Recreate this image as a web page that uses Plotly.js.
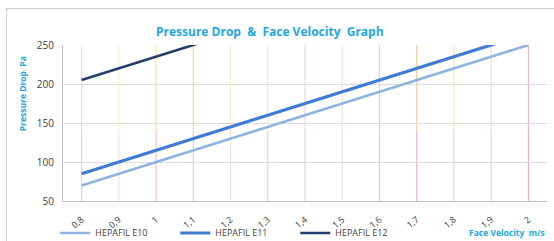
<!DOCTYPE html>
<html>
<head>
<meta charset="utf-8">
<script src="https://cdn.plot.ly/plotly-3.0.1.min.js"></script>
<style>
  html, body { margin: 0; padding: 0; background: #ffffff; }
  #wrap { position: relative; width: 554px; height: 241px; overflow: hidden; }
  #chart { position: absolute; left: 0; top: 0; width: 554px; height: 241px; }
  #frame { position: absolute; left: 6px; top: 8px; width: 560px; height: 260px;
           border: 1px solid #cfcfcf; pointer-events: none; box-sizing: border-box; }
</style>
</head>
<body>
<div id="wrap">
  <div id="chart"></div>
  <div id="frame"></div>
</div>
<script>
// ---- data ----
const velocity = [0.8, 0.9, 1.0, 1.1, 1.2, 1.3, 1.4, 1.5, 1.6, 1.7, 1.8, 1.9, 2.0];
const tickLabels = ['0,8', '0,9', '1', '1,1', '1,2', '1,3', '1,4', '1,5', '1,6', '1,7', '1,8', '1,9', '2'];
const seriesNames = ['HEPAFIL E10', 'HEPAFIL E11', 'HEPAFIL E12'];
const e10 = [70, 85, 100, 115, 130, 145, 160, 175, 190, 205, 220, 235, 250];
const e11 = [85, 100, 115, 130, 145, 160, 175, 190, 205, 220, 235, 250, 265];
const e12 = [205, 220, 235, 250, 265, 280, 295, 310, 325, 340, 355, 370, 385];
const yTicks = [50, 100, 150, 200, 250];

// ---- styles ----
const colors = ['#8fb3e2', '#3f7bd2', '#243f6e'];
const widths = [2.6, 3.2, 2.6];
const gridTop = ['#f6e58d', '#f8f0c0', '#f4e27a', '#f2d470', '#f6eccc', '#f4e4c8', '#f2c8cc',
                 '#f4dcd8', '#f2c4c8', '#f2c890', '#f4e0a0', '#f2d8d0', '#f2a8b0'];
const gridBottom = ['#d8d0d0', '#f0d8dc', '#eeb8c4', '#cccccc', '#e8e0e0', '#f0c0c8', '#d8d0d0',
                    '#e0dcdc', '#f0b8c4', '#f0a8b8', '#d0d0d0', '#d8d0d0', '#f0a0b0'];
const cyan = '#1ea6e6';
const tickColor = '#404040';

const data = [e10, e11, e12].map((ys, i) => ({
  x: velocity,
  y: ys,
  type: 'scatter',
  mode: 'lines',
  name: seriesNames[i],
  line: { color: colors[i], width: widths[i] },
  hoverinfo: 'skip'
}));

const shapes = [];
velocity.forEach((v, i) => {
  shapes.push({ type: 'line', xref: 'x', yref: 'paper', x0: v, x1: v, y0: 0.45, y1: 1,
                line: { color: gridTop[i], width: 1 }, layer: 'below' });
  shapes.push({ type: 'line', xref: 'x', yref: 'paper', x0: v, x1: v, y0: 0, y1: 0.45,
                line: { color: gridBottom[i], width: 1 }, layer: 'below' });
});

const layout = {
  width: 554,
  height: 241,
  margin: { l: 63, r: 7, t: 45, b: 40, autoexpand: false },
  paper_bgcolor: 'rgba(0,0,0,0)',
  plot_bgcolor: '#ffffff',
  font: { family: 'Open Sans, sans-serif', color: tickColor, size: 9 },
  title: {
    text: '<b>Pressure Drop  &  Face Velocity  Graph</b>',
    font: { family: 'Open Sans, sans-serif', size: 12, color: cyan },
    x: 0.487, xanchor: 'center', y: 0.87, yanchor: 'middle'
  },
  xaxis: {
    range: [0.75, 2.05],
    tickvals: velocity,
    ticktext: tickLabels,
    tickangle: -40,
    tickfont: { size: 9, color: tickColor },
    showgrid: false,
    zeroline: false,
    showline: true,
    linecolor: '#bfbfbf',
    linewidth: 1,
    ticks: '',
    ticklabelstandoff: 9,
    automargin: false,
    fixedrange: true
  },
  yaxis: {
    range: [50, 250],
    tickvals: yTicks,
    tickfont: { size: 10, color: tickColor },
    showgrid: true,
    gridcolor: '#dcdcdc',
    gridwidth: 1,
    zeroline: false,
    showline: true,
    linecolor: '#bfbfbf',
    linewidth: 1,
    ticks: '',
    ticklabelstandoff: 6,
    automargin: false,
    fixedrange: true
  },
  showlegend: true,
  legend: {
    orientation: 'h',
    x: -0.016, xanchor: 'left',
    y: -0.205, yanchor: 'middle',
    font: { size: 9, color: tickColor },
    entrywidth: 75,
    itemwidth: 30,
    bgcolor: 'rgba(0,0,0,0)'
  },
  shapes: shapes,
  annotations: [
    {
      text: '<b>Face Velocity  m/s</b>',
      xref: 'paper', yref: 'paper', x: 1.0, y: -0.205, xanchor: 'right', yanchor: 'middle',
      showarrow: false, font: { size: 8.5, color: cyan, family: 'Open Sans, sans-serif' }
    },
    {
      text: '<b>Pressure Drop  Pa</b>',
      xref: 'paper', yref: 'paper', x: -0.085, y: 0.69, xanchor: 'center', yanchor: 'middle',
      textangle: -90,
      showarrow: false, font: { size: 8.5, color: cyan, family: 'Open Sans, sans-serif' }
    }
  ]
};

Plotly.newPlot('chart', data, layout, { displayModeBar: false, staticPlot: true });
</script>
</body>
</html>
